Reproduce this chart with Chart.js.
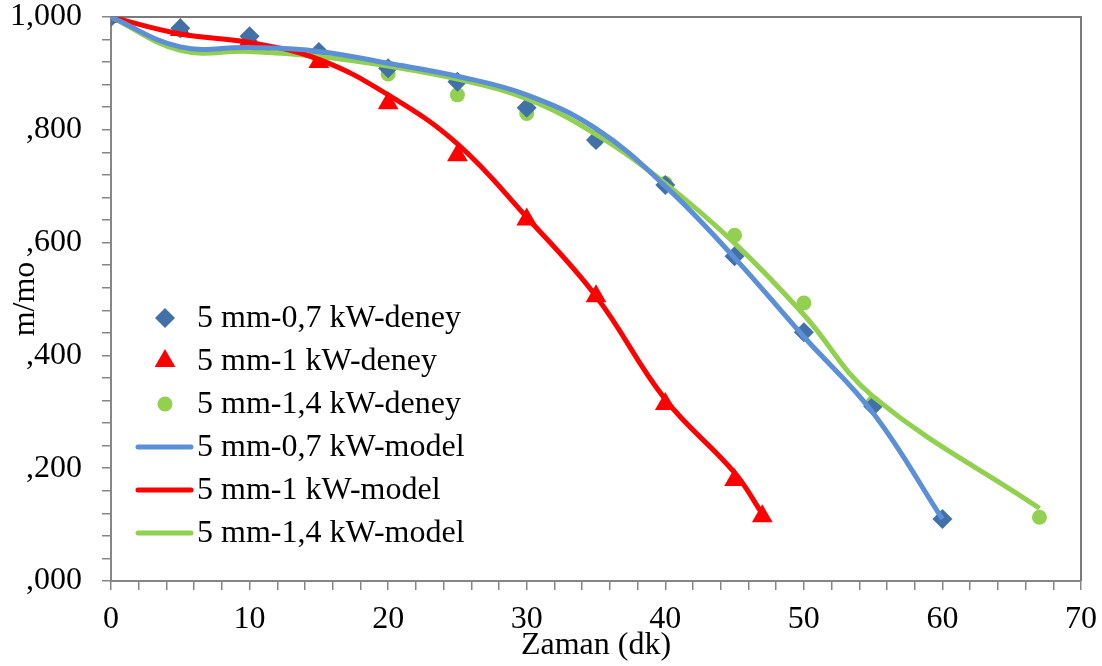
<!DOCTYPE html>
<html>
<head>
<meta charset="utf-8">
<script src="https://cdn.jsdelivr.net/npm/chart.js@4/dist/chart.umd.min.js"></script>
<style>
  html, body { margin: 0; padding: 0; background: #fff; }
  #wrap { width: 1102px; height: 666px; }
</style>
</head>
<body>
<div id="wrap"><canvas id="myChart"></canvas></div>
<script>
// measured series (Zaman, dk -> m/mo)
const time07 = [0, 5, 10, 15, 20, 25, 30, 35, 40, 45, 50, 55, 60]
const exp07 = [1.000, 0.980, 0.966, 0.938, 0.909, 0.885, 0.839, 0.782, 0.702, 0.576, 0.441, 0.310, 0.110]
const model07 = [1.000, 0.947, 0.946, 0.939, 0.918, 0.895, 0.862, 0.802, 0.700, 0.573, 0.433, 0.298, 0.110]

const time1 = [0, 5, 10, 15, 20, 25, 30, 35, 40, 45, 47]
const exp1 = [1.000, 0.977, 0.959, 0.920, 0.847, 0.755, 0.641, 0.505, 0.314, 0.179, 0.115]
const model1 = [1.000, 0.970, 0.955, 0.925, 0.862, 0.775, 0.645, 0.505, 0.322, 0.192, 0.119]

const time14 = [0, 5, 10, 15, 20, 25, 30, 35, 40, 45, 50, 55, 67]
const exp14 = [1.000, 0.977, 0.953, 0.929, 0.899, 0.862, 0.829, 0.782, 0.705, 0.613, 0.493, 0.316, 0.113]
const model14 = [1.000, 0.941, 0.939, 0.930, 0.913, 0.890, 0.855, 0.792, 0.705, 0.599, 0.472, 0.327, 0.129]

const xTicks = [0, 10, 20, 30, 40, 50, 60, 70]
const yTicks = [0, 0.2, 0.4, 0.6, 0.8, 1.0]

const pts = (xs, ys) => xs.map((x, i) => ({ x: x, y: ys[i] }))
const FONT = 'Liberation Serif, Times New Roman, serif'
const FSIZE = 32
const AXIS = '#868686'

const fmtY = v => {
  const n = Math.round(v * 1000)
  if (n >= 1000) return '1,000'
  return ',' + String(n).padStart(3, '0')
}

// plot frame (top + right edge)
const frame = {
  id: 'frame',
  beforeDatasetsDraw(chart) {
    const { ctx, chartArea: a } = chart
    ctx.save()
    ctx.strokeStyle = '#7a7a7a'
    ctx.lineWidth = 2
    ctx.beginPath()
    ctx.moveTo(a.left, a.top)
    ctx.lineTo(a.right, a.top)
    ctx.lineTo(a.right, a.bottom)
    ctx.stroke()
    ctx.restore()
  }
}

// legend drawn inside the plot area
const insideLegend = {
  id: 'insideLegend',
  afterDatasetsDraw(chart) {
    const { ctx, chartArea: a } = chart
    const x0 = a.left + 27, y0 = a.top + 301, gap = 43
    ctx.save()
    ctx.font = FSIZE + 'px ' + FONT
    ctx.textBaseline = 'middle'
    chart.data.datasets.forEach((ds, i) => {
      const y = y0 + i * gap
      if (ds.showLine) {
        ctx.strokeStyle = ds.borderColor
        ctx.lineWidth = 5
        ctx.lineCap = 'round'
        ctx.beginPath()
        ctx.moveTo(x0, y)
        ctx.lineTo(x0 + 53, y)
        ctx.stroke()
      } else {
        ctx.fillStyle = ds.backgroundColor
        Chart.helpers.drawPoint(ctx, { pointStyle: ds.pointStyle, radius: ds.pointRadius, rotation: 0, borderWidth: 0 }, x0 + 27, y)
      }
      ctx.fillStyle = '#000'
      ctx.fillText(ds.label, x0 + 59, y + 1)
    })
    ctx.restore()
  }
}

const marker = (label, xs, ys, style, color, r) => ({
  label: label,
  data: pts(xs, ys),
  showLine: false,
  pointStyle: style,
  pointRadius: r,
  pointBackgroundColor: color,
  backgroundColor: color,
  pointBorderWidth: 0,
  borderColor: color,
  order: 2
})

const model = (label, xs, ys, color) => ({
  label: label,
  data: pts(xs, ys),
  showLine: true,
  tension: 0.4,
  borderColor: color,
  borderWidth: 5,
  pointRadius: 0,
  fill: false,
  order: 1
})

new Chart(document.getElementById('myChart'), {
  type: 'scatter',
  data: {
    datasets: [
      marker('5 mm-0,7 kW-deney', time07, exp07, 'rectRot', '#4270A9', 10),
      marker('5 mm-1 kW-deney', time1, exp1, 'triangle', '#FF0000', 12),
      marker('5 mm-1,4 kW-deney', time14, exp14, 'circle', '#92D050', 7.5),
      model('5 mm-0,7 kW-model', time07, model07, '#5B8FD6'),
      model('5 mm-1 kW-model', time1, model1, '#FF0000'),
      model('5 mm-1,4 kW-model', time14, model14, '#92D050')
    ]
  },
  options: {
    responsive: true,
    maintainAspectRatio: false,
    animation: false,
    layout: { padding: { top: 17, right: 21, left: 0, bottom: 0 } },
    plugins: {
      legend: { display: false },
      tooltip: { enabled: false }
    },
    scales: {
      x: {
        type: 'linear',
        min: 0,
        max: 70,
        afterFit: s => { s.height = 85; s.paddingLeft = 0; s.paddingRight = 0 },
        ticks: {
          stepSize: 2,
          autoSkip: false,
          maxRotation: 0,
          padding: 10,
          color: '#000',
          font: { family: FONT, size: FSIZE },
          callback: v => xTicks.includes(v) ? String(v) : ''
        },
        grid: { drawOnChartArea: false, tickLength: 9, color: AXIS, lineWidth: 1.5 },
        border: { color: AXIS, width: 2 },
        title: {
          display: true,
          text: 'Zaman (dk)',
          color: '#000',
          font: { family: FONT, size: FSIZE },
          padding: { top: 0, bottom: 1 }
        }
      },
      y: {
        min: 0,
        max: 1,
        afterFit: s => { s.width = 111; s.paddingTop = 0; s.paddingBottom = 0 },
        ticks: {
          stepSize: 0.04,
          autoSkip: false,
          padding: 20,
          color: '#000',
          font: { family: FONT, size: FSIZE },
          callback: v => yTicks.some(t => Math.abs(t - v) < 1e-6) ? fmtY(v) : ''
        },
        grid: { drawOnChartArea: false, tickLength: 9, color: AXIS, lineWidth: 1.5 },
        border: { color: AXIS, width: 2 },
        title: {
          display: true,
          text: 'm/mo',
          color: '#000',
          font: { family: FONT, size: FSIZE },
          padding: { top: 6, bottom: 0 }
        }
      }
    }
  },
  plugins: [frame, insideLegend]
})
</script>
</body>
</html>
